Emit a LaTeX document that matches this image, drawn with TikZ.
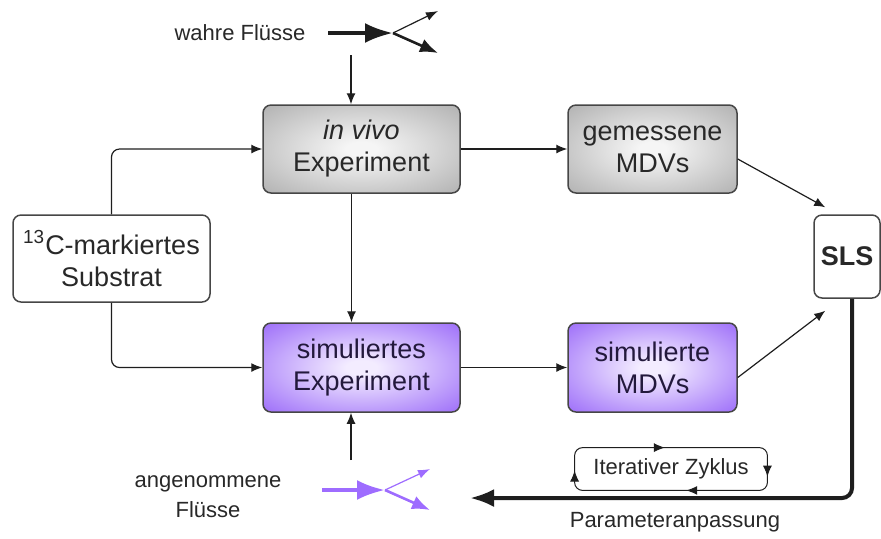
\documentclass[tikz,border=0pt]{standalone}
\usepackage{fontspec}
\setmainfont{Liberation Sans}
\usetikzlibrary{arrows.meta,decorations.markings}
\definecolor{txt}{RGB}{40,40,40}
\definecolor{boxline}{RGB}{70,70,70}
\definecolor{arrowline}{RGB}{30,30,30}
\definecolor{greyin}{RGB}{245,245,245}
\definecolor{greyout}{RGB}{168,168,168}
\definecolor{lilain}{RGB}{243,236,255}
\definecolor{lilaout}{RGB}{145,92,248}
\definecolor{lila}{RGB}{158,108,255}
\pgfdeclareradialshading{greyglow}{\pgfpoint{0bp}{0bp}}{color(0bp)=(greyin); color(4bp)=(greyin); color(40bp)=(greyout); color(50bp)=(greyout)}
\pgfdeclareradialshading{lilaglow}{\pgfpoint{0bp}{0bp}}{color(0bp)=(lilain); color(4bp)=(lilain); color(40bp)=(lilaout); color(50bp)=(lilaout)}
\tikzset{
    box/.style={draw=boxline, line width=0.75pt, rounded corners=4pt, align=center, text=txt, inner sep=0pt, font=\fontsize{13.5}{16}\selectfont},
    greybox/.style={box, shading=greyglow},
    lilabox/.style={box, shading=lilaglow, text={rgb,255:red,35;green,25;blue,60}},
    note/.style={align=center, text=txt, font=\fontsize{11}{15}\selectfont},
    flow/.style={draw=arrowline, line width=0.6pt, -{Latex[length=5.5pt,width=4.5pt]}},
}
\begin{document}
\begin{tikzpicture}[x=0.5pt,y=-0.5pt]
    \useasboundingbox (0,0) rectangle (881,538);
    \node[greybox, minimum width=98.5pt, minimum height=44pt] (vivo) at (361.5,149) {\textit{in vivo}\\Experiment};
    \node[greybox, minimum width=84.5pt, minimum height=44pt] (messen) at (652.5,149) {gemessene\\MDVs};
    \node[lilabox, minimum width=98.5pt, minimum height=44.5pt] (sim) at (361.5,367.5) {simuliertes\\Experiment};
    \node[lilabox, minimum width=84.5pt, minimum height=44.5pt] (simmdv) at (652.5,367.5) {simulierte\\MDVs};
    \node[box, fill=white, minimum width=98.5pt, minimum height=43.5pt] (substrat) at (111.5,258.5) {\textsuperscript{13}C-markiertes\\Substrat};
    \node[box, fill=white, minimum width=33pt, minimum height=41.5pt, font=\fontsize{13.5}{16}\selectfont\bfseries] (sls) at (847,256.5) {SLS};
    \draw[flow] (vivo) -- (messen);
    \draw[flow] ([xshift=-5pt]vivo.south) -- ([xshift=-5pt]sim.north);
    \draw[flow] (sim) -- (simmdv);
    \draw[flow, rounded corners=4pt] (substrat.north) |- (vivo.west);
    \draw[flow, rounded corners=4pt] (substrat.south) |- (sim.west);
    \draw[flow] ([yshift=-5pt]messen.east) -- ([shift={(6pt,3.5pt)}]sls.north west);
    \draw[flow] ([yshift=-5pt]simmdv.east) -- ([shift={(6pt,-6pt)}]sls.south west);
    \node[note] (wahre) at (240,33) {wahre Flüsse};
    \coordinate (w0) at (328,33);
    \coordinate (wsplit) at (393,33);
    \coordinate (wup) at (438,11);
    \coordinate (wdn) at (438,53);
    \coordinate (wdown) at (351,55);
    \draw[arrowline, line width=2pt, -{Latex[length=14pt,width=10pt]}] (w0) -- (wsplit);
    \draw[arrowline, line width=0.6pt, -{Latex[length=6pt,width=4.5pt]}] (wsplit) -- (wup);
    \draw[arrowline, line width=1.3pt, -{Latex[length=9pt,width=7pt]}] (wsplit) -- (wdn);
    \draw[flow] (wdown) -- (wdown |- vivo.north);
    \node[note] (angen) at (208,497) {angenommene\\Flüsse};
    \coordinate (p0) at (322,490);
    \coordinate (psplit) at (385,490);
    \coordinate (pup) at (430,469);
    \coordinate (pdn) at (430,510);
    \coordinate (pdown) at (351,460);
    \draw[lila, line width=2pt, -{Latex[length=14pt,width=10pt]}] (p0) -- (psplit);
    \draw[lila, line width=0.6pt, -{Latex[length=6pt,width=4.5pt]}] (psplit) -- (pup);
    \draw[lila, line width=1.3pt, -{Latex[length=9pt,width=7pt]}] (psplit) -- (pdn);
    \draw[flow] (pdown) -- (pdown |- sim.south);
    \coordinate (fit) at (470,498);
    \draw[arrowline, line width=2pt, rounded corners=5pt, -{Latex[length=12pt,width=9pt]}] ([xshift=2.5pt]sls.south) |- (fit);
    \node[note, minimum width=96pt, minimum height=21pt, inner sep=0pt] (zyklus) at (671,469) {Iterativer Zyklus};
    \draw[arrowline, line width=0.5pt, rounded corners=4pt, postaction={decorate}, decoration={markings,
        mark=at position 0.18 with {\arrow{Latex[length=5.5pt,width=4.5pt]}},
        mark=at position 0.46 with {\arrow{Latex[length=5.5pt,width=4.5pt]}},
        mark=at position 0.66 with {\arrow{Latex[length=5.5pt,width=4.5pt]}},
        mark=at position 0.94 with {\arrow{Latex[length=5.5pt,width=4.5pt]}}}]
        (zyklus.north west) -- (zyklus.north east) -- (zyklus.south east) -- (zyklus.south west) -- cycle;
    \node[note] (param) at (675,522) {Parameteranpassung};
\end{tikzpicture}
\end{document}
